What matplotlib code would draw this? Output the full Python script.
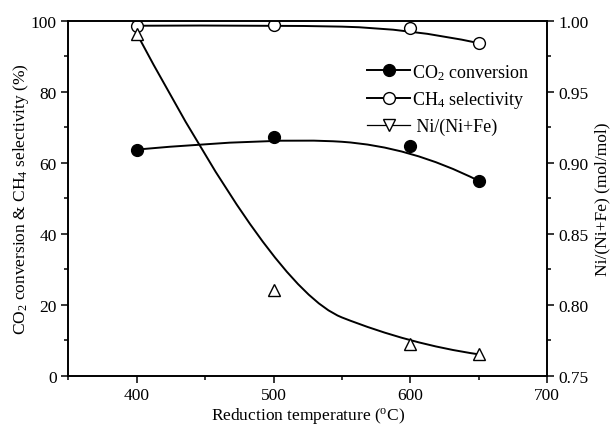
import numpy as np
import matplotlib
matplotlib.use("Agg")
import matplotlib.pyplot as plt
from matplotlib.lines import Line2D
from matplotlib.path import Path
from matplotlib.patches import PathPatch
from matplotlib.ticker import MultipleLocator, FormatStrFormatter

plt.rcParams['font.family'] = ['Liberation Serif', 'DejaVu Serif']
plt.rcParams['mathtext.fontset'] = 'custom'
plt.rcParams['mathtext.rm'] = 'Liberation Serif'
plt.rcParams['mathtext.it'] = 'Liberation Serif:italic'

# data
temps = [400, 500, 600, 650]
co2_conversion = [63.7, 67.2, 64.6, 54.9]
ch4_selectivity = [98.6, 98.8, 97.9, 93.7]
ni_ratio = [0.991, 0.810, 0.772, 0.765]


def bspline_patch(x, y):
    # quadratic B-spline through the end points, data points as control points
    pts = np.column_stack([x, y]).astype(float)
    verts = [pts[0]]
    codes = [Path.MOVETO]
    for i in range(1, len(pts) - 2):
        verts += [pts[i], (pts[i] + pts[i + 1]) / 2]
        codes += [Path.CURVE3, Path.CURVE3]
    verts += [pts[-2], pts[-1]]
    codes += [Path.CURVE3, Path.CURVE3]
    return PathPatch(Path(verts, codes), facecolor='none', edgecolor='black', lw=1.4)


fig = plt.figure(figsize=(6.16, 4.27), dpi=100)
ax = fig.add_axes([0.111, 0.118, 0.777, 0.831])
ax2 = ax.twinx()

ax.add_patch(bspline_patch(temps, co2_conversion))
ax.plot(temps, co2_conversion, 'o', color='black', ms=8.5)
ax.add_patch(bspline_patch(temps, ch4_selectivity))
ax.plot(temps, ch4_selectivity, 'o', mfc='white', mec='black', mew=1.0, ms=8.5)
ax2.add_patch(bspline_patch(temps, ni_ratio))
ax2.plot(temps, ni_ratio, '^', mfc='white', mec='black', mew=1.0, ms=9)

ax.set_xlim(350, 700)
ax.set_ylim(0, 100)
ax2.set_ylim(0.75, 1.00)
ax.xaxis.set_major_locator(MultipleLocator(100))
ax.xaxis.set_minor_locator(MultipleLocator(50))
ax.yaxis.set_major_locator(MultipleLocator(20))
ax.yaxis.set_minor_locator(MultipleLocator(10))
ax2.yaxis.set_major_locator(MultipleLocator(0.05))
ax2.yaxis.set_minor_locator(MultipleLocator(0.025))
ax2.yaxis.set_major_formatter(FormatStrFormatter('%.2f'))

for a in (ax, ax2):
    a.tick_params(which='major', direction='out', length=5, width=1.1, labelsize=12.5)
    a.tick_params(which='minor', direction='out', length=3, width=1.1)
    for s in a.spines.values():
        s.set_linewidth(1.2)
ax.tick_params(top=False, right=False)

ax.set_xlabel('Reduction temperature ($^{\\mathrm{o}}$C)', fontsize=12.5, labelpad=1)
ax.set_ylabel('CO$_2$ conversion & CH$_4$ selectivity (%)', fontsize=12.5, labelpad=0)
ax2.set_ylabel('Ni/(Ni+Fe) (mol/mol)', fontsize=12.5, labelpad=4)

handles = [
    Line2D([], [], color='black', lw=1.4, marker='o', ms=8.5),
    Line2D([], [], color='black', lw=1.4, marker='o', mfc='white', mec='black', ms=8.5),
    Line2D([], [], color='black', lw=0.9, marker='v', mfc='white', mec='black', ms=8),
]
labels = ['CO$_2$ conversion', 'CH$_4$ selectivity', ' Ni/(Ni+Fe)']
ax.legend(handles, labels, loc='upper right', bbox_to_anchor=(0.99, 0.92),
          frameon=False, fontsize=13, handlelength=2.35, handletextpad=0.15,
          labelspacing=0.42, borderpad=0.2)

fig.savefig('out.png', dpi=100)
